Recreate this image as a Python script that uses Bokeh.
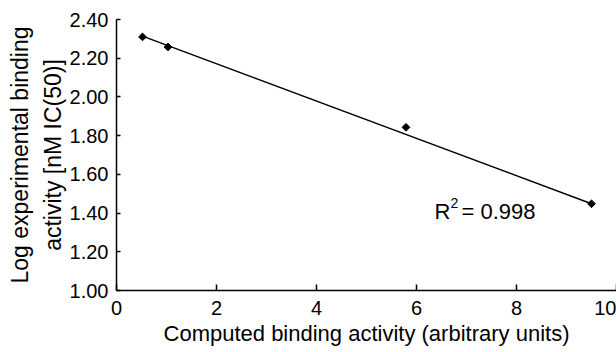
from bokeh.plotting import figure
from bokeh.models import Label, FixedTicker, PrintfTickFormatter, Range1d, ColumnDataSource
from bokeh.embed import file_html
from bokeh.resources import INLINE
import math

# ---- data ----
computed = [0.52, 1.03, 5.79, 9.50]
log_ic50 = [2.31, 2.258, 1.843, 1.448]
trend_x = [0.52, 9.50]
trend_y = [2.314, 1.448]
x_ticks = [0, 2, 4, 6, 8, 10]
y_ticks = [1.00, 1.20, 1.40, 1.60, 1.80, 2.00, 2.20, 2.40]
x_title = "Computed binding activity (arbitrary units)"
y_title = "Log experimental binding\nactivity [nM IC(50)]"
r2_text = "= 0.998"

FONT = "Liberation Sans"

p = figure(width=616, height=352, output_backend="svg", toolbar_location=None,
           x_range=Range1d(0, 10), y_range=Range1d(1.0, 2.4),
           min_border_left=116, min_border_right=0, min_border_top=19, min_border_bottom=62)
p.outline_line_color = None
p.xgrid.visible = False
p.ygrid.visible = False
p.background_fill_color = "white"

for ax in (p.xaxis[0], p.yaxis[0]):
    ax.axis_line_color = "black"
    ax.axis_line_width = 1.5
    ax.major_tick_line_color = "black"
    ax.major_tick_line_width = 1.5
    ax.major_tick_out = 0
    ax.minor_tick_line_color = None
    ax.major_label_text_font = FONT
    ax.major_label_text_font_size = "20px"
    ax.major_label_text_color = "black"
    ax.axis_label_text_font = FONT
    ax.axis_label_text_font_style = "normal"
    ax.axis_label_text_color = "black"

xa = p.xaxis[0]
ya = p.yaxis[0]
xa.ticker = FixedTicker(ticks=x_ticks)
ya.ticker = FixedTicker(ticks=y_ticks)
ya.formatter = PrintfTickFormatter(format="%.2f")
xa.major_tick_in = 6
ya.major_tick_in = 4
xa.major_label_standoff = 10
ya.major_label_standoff = 8
xa.axis_label = x_title
xa.axis_label_text_font_size = "22px"
xa.axis_label_standoff = 3
ya.axis_label = y_title
ya.axis_label_text_font_size = "23px"
ya.axis_label_text_line_height = 1.25
ya.axis_label_standoff = 1

src = ColumnDataSource(dict(x=computed, y=log_ic50))
p.line(trend_x, trend_y, line_color="black", line_width=1.4)
p.scatter("x", "y", source=src, marker="square", angle=math.pi / 4, size=5.5,
          fill_color="black", line_color="black")

# R^2 annotation
p.add_layout(Label(x=6.36, y=1.406, text="R", text_font=FONT, text_font_size="22px",
                   text_baseline="alphabetic", text_align="left", text_color="black"))
p.add_layout(Label(x=6.68, y=1.451, text="2", text_font=FONT, text_font_size="14px",
                   text_baseline="alphabetic", text_align="left", text_color="black"))
p.add_layout(Label(x=6.90, y=1.406, text=r2_text, text_font=FONT, text_font_size="22px",
                   text_baseline="alphabetic", text_align="left", text_color="black"))

open("out.html", "w").write(file_html(p, INLINE))
